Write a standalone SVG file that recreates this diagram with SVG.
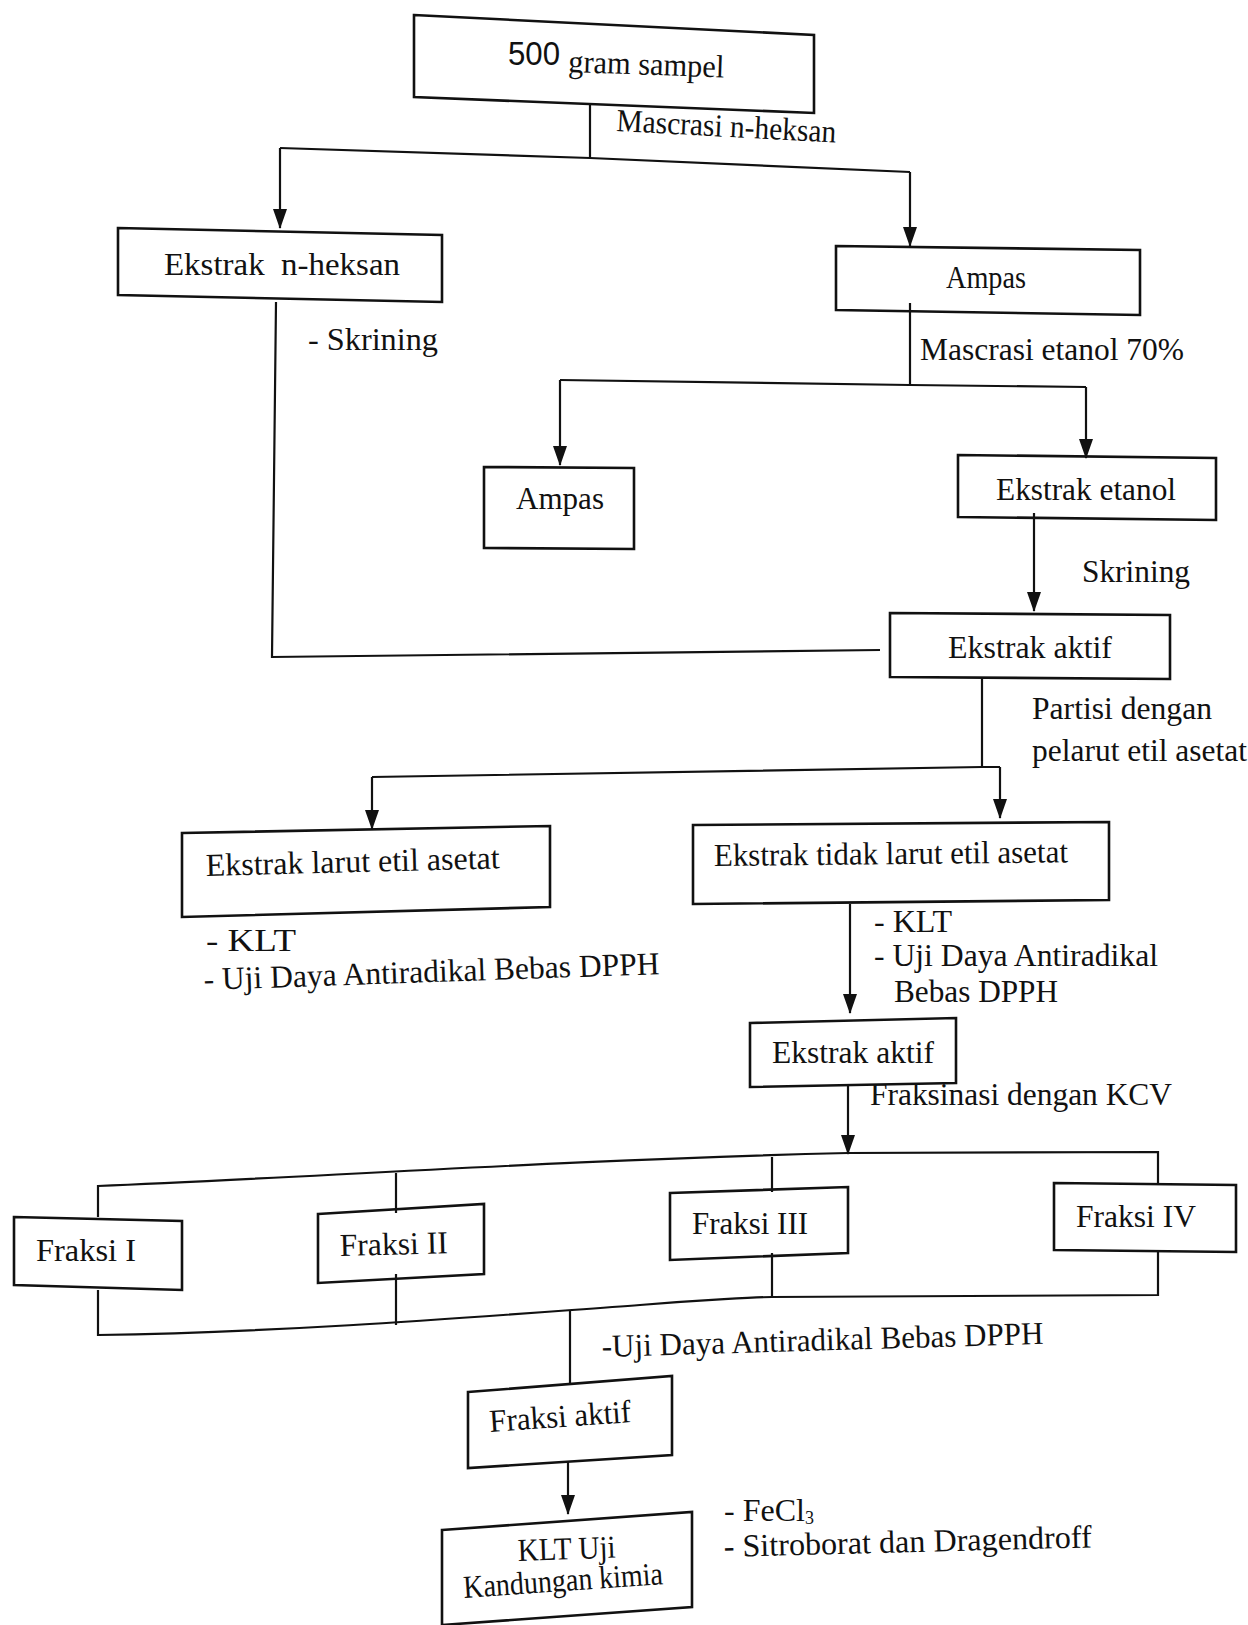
<svg xmlns="http://www.w3.org/2000/svg" width="1248" height="1625" viewBox="0 0 1248 1625">
<style>
.box{fill:none;stroke:#111;stroke-width:2.6;stroke-linejoin:miter}
.ln{fill:none;stroke:#111;stroke-width:2.2}
.t{font-family:"Liberation Serif","Times New Roman",serif;fill:#111;font-size:32px}
</style>
<defs>
<marker id="ah" markerUnits="userSpaceOnUse" markerWidth="20" markerHeight="14" refX="19" refY="7" orient="auto" viewBox="0 0 20 14">
<path d="M0,0 L20,7 L0,14 Z" fill="#111"/>
</marker>
</defs>
<rect width="1248" height="1625" fill="#fff"/>
<g id="connectors">
<line class="ln" x1="590" y1="103" x2="590" y2="158"/>
<polyline class="ln" points="280,148 590,158 910,172"/>
<line class="ln" x1="280" y1="148" x2="280" y2="228" marker-end="url(#ah)"/>
<line class="ln" x1="910" y1="172" x2="910" y2="246" marker-end="url(#ah)"/>
<line class="ln" x1="910" y1="303" x2="910" y2="385"/>
<polyline class="ln" points="560,380 910,385 1086,387"/>
<line class="ln" x1="560" y1="380" x2="560" y2="465" marker-end="url(#ah)"/>
<line class="ln" x1="1086" y1="387" x2="1086" y2="458" marker-end="url(#ah)"/>
<polyline class="ln" points="276,302 272,657 880,650"/>
<line class="ln" x1="1034" y1="513" x2="1034" y2="611" marker-end="url(#ah)"/>
<line class="ln" x1="982" y1="679" x2="982" y2="767"/>
<polyline class="ln" points="372,777 982,767 1000,767"/>
<line class="ln" x1="372" y1="777" x2="372" y2="829" marker-end="url(#ah)"/>
<line class="ln" x1="1000" y1="767" x2="1000" y2="818" marker-end="url(#ah)"/>
<line class="ln" x1="850" y1="904" x2="850" y2="1013" marker-end="url(#ah)"/>
<line class="ln" x1="848" y1="1085" x2="848" y2="1154" marker-end="url(#ah)"/>
<path class="ln" d="M98,1217 L98,1186 C300,1178 560,1160 848,1153 L1158,1152 L1158,1183"/>
<line class="ln" x1="396" y1="1173" x2="396" y2="1213"/>
<line class="ln" x1="772" y1="1157" x2="772" y2="1192"/>
<path class="ln" d="M98,1290 L98,1335 C300,1332 500,1315 640,1305 C700,1300 760,1297 772,1297 L1158,1295 L1158,1252"/>
<line class="ln" x1="396" y1="1274" x2="396" y2="1325"/>
<line class="ln" x1="772" y1="1253" x2="772" y2="1298"/>
<line class="ln" x1="570" y1="1310" x2="570" y2="1384"/>
<line class="ln" x1="568" y1="1462" x2="568" y2="1514" marker-end="url(#ah)"/>
</g>
<g id="n-sampel">
<polygon class="box" points="414,15 814,35 814,113 414,97"/>
<text x="508" y="65" font-family="Liberation Sans, Arial, sans-serif" font-size="34" fill="#111" textLength="52" lengthAdjust="spacingAndGlyphs">500</text>
<text class="t" x="568" y="72" font-size="29" textLength="156" lengthAdjust="spacingAndGlyphs" transform="rotate(2 568 72)">gram sampel</text>
</g>
<g id="lbl-maserasi-heksan">
<text class="t" x="616" y="131" font-size="29" textLength="220" lengthAdjust="spacingAndGlyphs" transform="rotate(3 616 131)">Mascrasi n-heksan</text>
</g>
<g id="n-ekstrak-heksan">
<polygon class="box" points="118,228 442,235 442,302 118,295"/>
<text class="t" x="164" y="275" font-size="34" textLength="236" lengthAdjust="spacingAndGlyphs" style="white-space:pre">Ekstrak  n-heksan</text>
</g>
<g id="lbl-skrining1">
<text class="t" x="308" y="350" font-size="34" textLength="130" lengthAdjust="spacingAndGlyphs">- Skrining</text>
</g>
<g id="n-ampas1">
<polygon class="box" points="836,246 1140,250 1140,315 836,310"/>
<text class="t" x="946" y="288" font-size="31" textLength="80" lengthAdjust="spacingAndGlyphs">Ampas</text>
</g>
<g id="lbl-maserasi-etanol">
<text class="t" x="920" y="360" font-size="32" textLength="264" lengthAdjust="spacingAndGlyphs">Mascrasi etanol 70%</text>
</g>
<g id="n-ampas2">
<polygon class="box" points="484,467 634,468 634,549 484,548"/>
<text class="t" x="516" y="509" font-size="32" textLength="88" lengthAdjust="spacingAndGlyphs">Ampas</text>
</g>
<g id="n-ekstrak-etanol">
<polygon class="box" points="958,455 1216,458 1216,520 958,517"/>
<text class="t" x="996" y="500" font-size="31" textLength="180" lengthAdjust="spacingAndGlyphs">Ekstrak etanol</text>
</g>
<g id="lbl-skrining2">
<text class="t" x="1082" y="582" font-size="32" textLength="108" lengthAdjust="spacingAndGlyphs">Skrining</text>
</g>
<g id="n-ekstrak-aktif1">
<polygon class="box" points="890,613 1170,615 1170,679 890,677"/>
<text class="t" x="948" y="658" font-size="32" textLength="164" lengthAdjust="spacingAndGlyphs">Ekstrak aktif</text>
</g>
<g id="lbl-partisi">
<text class="t" x="1032" y="719" font-size="30" textLength="180" lengthAdjust="spacingAndGlyphs">Partisi dengan</text>
<text class="t" x="1032" y="761" font-size="30" textLength="215" lengthAdjust="spacingAndGlyphs">pelarut etil asetat</text>
</g>
<g id="n-larut">
<polygon class="box" points="182,833 550,826 550,907 182,917"/>
<text class="t" x="206" y="876" font-size="32" textLength="294" lengthAdjust="spacingAndGlyphs" transform="rotate(-1.5 206 876)">Ekstrak larut etil asetat</text>
</g>
<g id="n-tidak-larut">
<polygon class="box" points="693,825 1109,822 1109,900 693,904"/>
<text class="t" x="714" y="866" font-size="32" textLength="354" lengthAdjust="spacingAndGlyphs" transform="rotate(-0.6 714 866)">Ekstrak tidak larut etil asetat</text>
</g>
<g id="lbl-klt-left">
<text class="t" x="206" y="951" font-size="32" textLength="90" lengthAdjust="spacingAndGlyphs">- KLT</text>
<text class="t" x="204" y="990" font-size="32" textLength="456" lengthAdjust="spacingAndGlyphs" transform="rotate(-2 204 990)">- Uji Daya Antiradikal Bebas DPPH</text>
</g>
<g id="lbl-klt-right">
<text class="t" x="874" y="932" font-size="32" textLength="78" lengthAdjust="spacingAndGlyphs">- KLT</text>
<text class="t" x="874" y="966" font-size="32" textLength="284" lengthAdjust="spacingAndGlyphs">- Uji Daya Antiradikal</text>
<text class="t" x="894" y="1002" font-size="32" textLength="164" lengthAdjust="spacingAndGlyphs">Bebas DPPH</text>
</g>
<g id="n-ekstrak-aktif2">
<polygon class="box" points="750,1023 956,1018 956,1083 750,1087"/>
<text class="t" x="772" y="1063" font-size="32" textLength="162" lengthAdjust="spacingAndGlyphs">Ekstrak aktif</text>
</g>
<g id="lbl-fraksinasi">
<text class="t" x="870" y="1105" font-size="31" textLength="302" lengthAdjust="spacingAndGlyphs">Fraksinasi dengan KCV</text>
</g>
<g id="n-fraksi1">
<polygon class="box" points="14,1217 182,1221 182,1290 14,1285"/>
<text class="t" x="36" y="1261" font-size="31" textLength="100" lengthAdjust="spacingAndGlyphs">Fraksi I</text>
</g>
<g id="n-fraksi2">
<polygon class="box" points="318,1214 484,1204 484,1274 318,1283"/>
<text class="t" x="340" y="1256" font-size="31" textLength="108" lengthAdjust="spacingAndGlyphs" transform="rotate(-1.5 340 1256)">Fraksi II</text>
</g>
<g id="n-fraksi3">
<polygon class="box" points="670,1193 848,1187 848,1253 670,1260"/>
<text class="t" x="692" y="1234" font-size="31" textLength="116" lengthAdjust="spacingAndGlyphs">Fraksi III</text>
</g>
<g id="n-fraksi4">
<polygon class="box" points="1054,1183 1236,1185 1236,1252 1054,1250"/>
<text class="t" x="1076" y="1227" font-size="31" textLength="120" lengthAdjust="spacingAndGlyphs">Fraksi IV</text>
</g>
<g id="lbl-uji-fraksi">
<text class="t" x="602" y="1357" font-size="32" textLength="442" lengthAdjust="spacingAndGlyphs" transform="rotate(-1.7 602 1357)">-Uji Daya Antiradikal Bebas DPPH</text>
</g>
<g id="n-fraksi-aktif">
<polygon class="box" points="468,1392 672,1376 672,1455 468,1468"/>
<text class="t" x="490" y="1432" font-size="31" textLength="142" lengthAdjust="spacingAndGlyphs" transform="rotate(-4 490 1432)">Fraksi aktif</text>
</g>
<g id="n-klt">
<polygon class="box" points="442,1530 692,1512 692,1607 442,1625"/>
<text class="t" x="518" y="1561" font-size="29" textLength="98" lengthAdjust="spacingAndGlyphs" transform="rotate(-2 518 1561)">KLT Uji</text>
<text class="t" x="464" y="1598" font-size="29" textLength="200" lengthAdjust="spacingAndGlyphs" transform="rotate(-4 464 1598)">Kandungan kimia</text>
</g>
<g id="lbl-reagen">
<text class="t" x="724" y="1521" font-size="30">- FeCl<tspan font-size="18" dy="3">3</tspan></text>
<text class="t" x="724" y="1557" font-size="31" textLength="368" lengthAdjust="spacingAndGlyphs" transform="rotate(-1.5 724 1557)">- Sitroborat dan Dragendroff</text>
</g>
</svg>
